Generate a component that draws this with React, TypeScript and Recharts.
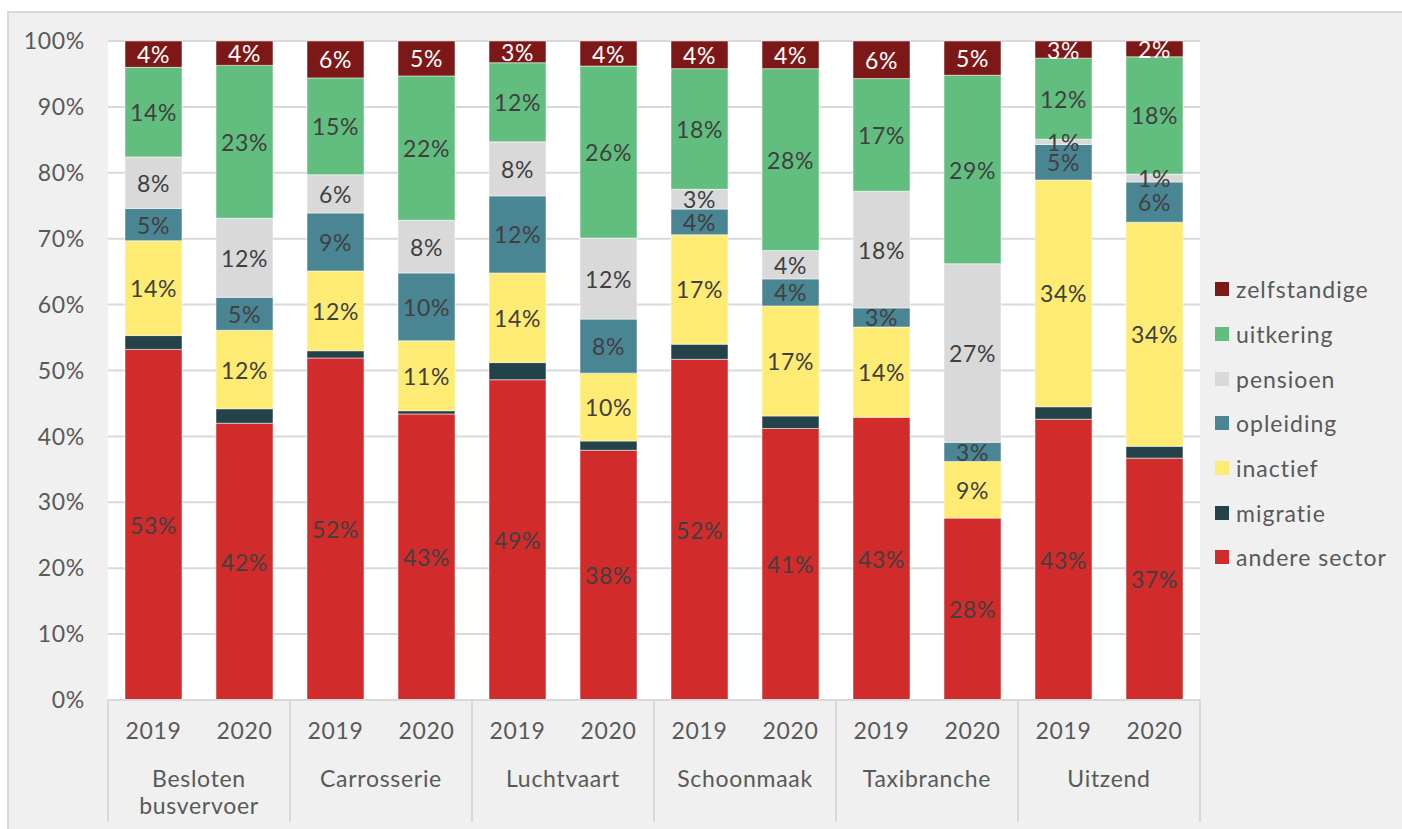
import { Bar, BarChart, CartesianGrid, LabelList, XAxis, YAxis } from "recharts";

const years = ["2019", "2020", "2019", "2020", "2019", "2020", "2019", "2020", "2019", "2020", "2019", "2020"];
const categories = ["Besloten busvervoer", "Carrosserie", "Luchtvaart", "Schoonmaak", "Taxibranche", "Uitzend"];

const andereSector = [53.2, 42.0, 51.9, 43.4, 48.6, 37.9, 51.7, 41.2, 42.9, 27.6, 42.6, 36.7];
const migratie = [2.1, 2.2, 1.1, 0.5, 2.6, 1.4, 2.3, 1.9, 0, 0, 1.9, 1.8];
const inactief = [14.4, 11.9, 12.1, 10.6, 13.6, 10.3, 16.6, 16.7, 13.7, 8.6, 34.4, 34.0];
const opleiding = [4.9, 5.0, 8.8, 10.3, 11.7, 8.2, 3.9, 4.1, 2.9, 2.9, 5.4, 6.1];
const pensioen = [7.8, 12.0, 5.8, 8.0, 8.2, 12.3, 3.0, 4.3, 17.7, 27.1, 0.8, 1.2];
const uitkering = [13.6, 23.2, 14.7, 21.9, 12.0, 26.1, 18.3, 27.6, 17.1, 28.6, 12.3, 17.8];
const zelfstandige = [4.0, 3.7, 5.6, 5.3, 3.3, 3.8, 4.2, 4.2, 5.7, 5.2, 2.6, 2.4];

const yTicks = [0, 10, 20, 30, 40, 50, 60, 70, 80, 90, 100];

// stacking order, bottom to top
const series = [
  { key: "andereSector", name: "andere sector", color: "#d22b2b", label: "#404040" },
  { key: "migratie", name: "migratie", color: "#24424a", label: null },
  { key: "inactief", name: "inactief", color: "#feeb74", label: "#404040" },
  { key: "opleiding", name: "opleiding", color: "#4a8594", label: "#404040" },
  { key: "pensioen", name: "pensioen", color: "#d9d9d9", label: "#404040" },
  { key: "uitkering", name: "uitkering", color: "#62be7e", label: "#404040" },
  { key: "zelfstandige", name: "zelfstandige", color: "#7d1819", label: "#ffffff" },
];

const chartData = years.map((year, i) => ({
  year,
  category: categories[Math.floor(i / 2)],
  andereSector: andereSector[i],
  migratie: migratie[i],
  inactief: inactief[i],
  opleiding: opleiding[i],
  pensioen: pensioen[i],
  uitkering: uitkering[i],
  zelfstandige: zelfstandige[i],
}));

const FONT = 'Lato, "Open Sans", sans-serif';
const FONT_SIZE = 23;
const SPACING = 0.7;
const WIDTH = 1402;
const HEIGHT = 829;
const PLOT_LEFT = 108;
const PLOT_RIGHT = 1200;
const PLOT_TOP = 41;
const PLOT_BOTTOM = 700;
const SLOT = (PLOT_RIGHT - PLOT_LEFT) / years.length;

function YearTick(props: any) {
  const { x, payload, index } = props;
  const i = payload?.index ?? index;
  const category = categories[Math.floor(i / 2)];
  const lines = category === "Besloten busvervoer" ? ["Besloten", "busvervoer"] : [category];

  return (
    <g>
      <text
        x={x}
        y={730}
        textAnchor="middle"
        dominantBaseline="central"
        fill="#595959"
        fontSize={FONT_SIZE}
        fontFamily={FONT}
        letterSpacing={SPACING}
      >
        {payload.value}
      </text>
      {i % 2 === 0 ? (
        <>
          <line x1={x - SLOT / 2} x2={x - SLOT / 2} y1={PLOT_BOTTOM} y2={822} stroke="#d9d9d9" strokeWidth={2} />
          {lines.map((line, j) => (
            <text
              key={line}
              x={x + SLOT / 2}
              y={778 + j * 27}
              textAnchor="middle"
              dominantBaseline="central"
              fill="#595959"
              fontSize={FONT_SIZE}
              fontFamily={FONT}
              letterSpacing={SPACING}
            >
              {line}
            </text>
          ))}
        </>
      ) : null}
      {i === years.length - 1 ? (
        <line x1={x + SLOT / 2} x2={x + SLOT / 2} y1={PLOT_BOTTOM} y2={822} stroke="#d9d9d9" strokeWidth={2} />
      ) : null}
    </g>
  );
}

function makeLabel(color: string) {
  return (props: any) => {
    const { x, y, width, height, value } = props;
    if (!value || value < 0.5) {
      return null;
    }
    return (
      <text
        x={x + width / 2}
        y={y + height / 2}
        textAnchor="middle"
        dominantBaseline="central"
        fill={color}
        fontSize={FONT_SIZE}
        fontFamily={FONT}
        letterSpacing={SPACING}
        clipPath="url(#plot-clip)"
      >
        {Math.round(value)}%
      </text>
    );
  };
}

function LegendBox() {
  const items = [...series].reverse();
  return (
    <div style={{ position: "absolute", left: 1215, top: 267, fontFamily: FONT }}>
      {items.map((item) => (
        <div key={item.key} style={{ display: "flex", alignItems: "center", height: 44.7 }}>
          <span style={{ width: 14, height: 14, background: item.color, display: "inline-block" }} />
          <span style={{ marginLeft: 7, fontSize: FONT_SIZE, color: "#595959", letterSpacing: 1 }}>
            {item.name}
          </span>
        </div>
      ))}
    </div>
  );
}

export default function App() {
  return (
    <div style={{ position: "absolute", left: 0, top: 0, width: WIDTH, height: HEIGHT, background: "#fff", overflow: "hidden" }}>
      <div
        style={{
          position: "absolute",
          left: 7,
          top: 11,
          width: 1420,
          height: 840,
          background: "#f0f0f0",
          borderTop: "2px solid #d9d9d9",
          borderLeft: "2px solid #d9d9d9",
        }}
      />
      <div style={{ position: "absolute", left: 0, top: 0 }}>
        <BarChart
          width={WIDTH}
          height={HEIGHT}
          data={chartData}
          margin={{ top: PLOT_TOP, right: WIDTH - PLOT_RIGHT, bottom: 7, left: 8 }}
          barSize={57}
        >
          <defs>
            <clipPath id="plot-clip">
              <rect x={PLOT_LEFT} y={PLOT_TOP} width={PLOT_RIGHT - PLOT_LEFT} height={PLOT_BOTTOM - PLOT_TOP} />
            </clipPath>
          </defs>
          <CartesianGrid vertical={false} stroke="#d9d9d9" strokeWidth={2} fill="#ffffff" />
          <XAxis
            dataKey="year"
            height={122}
            interval={0}
            tickLine={false}
            axisLine={{ stroke: "#d9d9d9", strokeWidth: 2 }}
            tick={<YearTick />}
          />
          <YAxis
            width={100}
            domain={[0, 100]}
            ticks={yTicks}
            tickFormatter={(v: number) => `${v}%`}
            tickLine={false}
            axisLine={false}
            tickMargin={17}
            tick={{ fill: "#595959", fontSize: FONT_SIZE, fontFamily: FONT, letterSpacing: SPACING }}
          />
          {series.map((s) => (
            <Bar
              key={s.key}
              dataKey={s.key}
              name={s.name}
              stackId="a"
              fill={s.color}
              stroke="rgba(255,255,255,0.5)"
              strokeWidth={1}
              isAnimationActive={false}
            >
              {s.label ? <LabelList dataKey={s.key} content={makeLabel(s.label)} /> : null}
            </Bar>
          ))}
        </BarChart>
      </div>
      <LegendBox />
    </div>
  );
}
